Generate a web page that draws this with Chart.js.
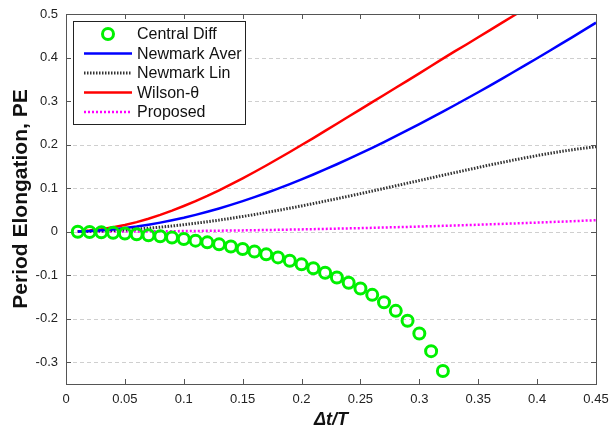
<!DOCTYPE html>
<html>
<head>
<meta charset="utf-8">
<script src="https://cdn.jsdelivr.net/npm/chart.js@4.4.0/dist/chart.umd.min.js"></script>
<style>
  html, body { margin: 0; padding: 0; background: #fff; }
  #wrap { width: 610px; height: 431px; }
</style>
</head>
<body>
<div id="wrap"><canvas id="peChart" width="610" height="431"></canvas></div>
<script>
// time step ratio dt/T
const dtT = [
  0.01, 0.02, 0.03, 0.04, 0.05, 0.06, 0.07, 0.08, 0.09, 0.10,
  0.11, 0.12, 0.13, 0.14, 0.15, 0.16, 0.17, 0.18, 0.19, 0.20,
  0.21, 0.22, 0.23, 0.24, 0.25, 0.26, 0.27, 0.28, 0.29, 0.30,
  0.31, 0.32, 0.33, 0.34, 0.35, 0.36, 0.37, 0.38, 0.39, 0.40,
  0.41, 0.42, 0.43, 0.44, 0.45
];

// period elongation
const centralDiff = [
  -0.0002, -0.0007, -0.0015, -0.0026, -0.0041, -0.0060, -0.0082, -0.0107, -0.0136, -0.0168,
  -0.0207, -0.0246, -0.0292, -0.0340, -0.0398, -0.0457, -0.0521, -0.0592, -0.0668, -0.0751,
  -0.0841, -0.0944, -0.1053, -0.1175, -0.1305, -0.1452, -0.1622, -0.1819, -0.2047, -0.2340,
  -0.2745, -0.3200
];
const newmarkAver = [
  0.0003, 0.0013, 0.0030, 0.0052, 0.0082, 0.0117, 0.0159, 0.0207, 0.0261, 0.0320,
  0.0386, 0.0457, 0.0533, 0.0615, 0.0701, 0.0792, 0.0888, 0.0988, 0.1092, 0.1200,
  0.1313, 0.1429, 0.1548, 0.1673, 0.1797, 0.1926, 0.2058, 0.2193, 0.2330, 0.2470,
  0.2612, 0.2757, 0.2904, 0.3053, 0.3203, 0.3356, 0.3511, 0.3667, 0.3825, 0.3984,
  0.4145, 0.4307, 0.4470, 0.4635, 0.4801
];
const newmarkLin = [
  0.0002, 0.0007, 0.0015, 0.0026, 0.0041, 0.0059, 0.0080, 0.0103, 0.0130, 0.0160,
  0.0193, 0.0228, 0.0265, 0.0306, 0.0348, 0.0393, 0.0440, 0.0489, 0.0539, 0.0591,
  0.0645, 0.0701, 0.0757, 0.0815, 0.0873, 0.0932, 0.0992, 0.1053, 0.1114, 0.1174,
  0.1235, 0.1296, 0.1356, 0.1415, 0.1474, 0.1534, 0.1588, 0.1644, 0.1697, 0.1747,
  0.1795, 0.1840, 0.1882, 0.1919, 0.1952
];
const wilsonTheta = [
  0.0006, 0.0025, 0.0056, 0.0099, 0.0153, 0.0219, 0.0296, 0.0384, 0.0483, 0.0590,
  0.0700, 0.0820, 0.0950, 0.1085, 0.1225, 0.1370, 0.1520, 0.1675, 0.1830, 0.1990,
  0.2150, 0.2315, 0.2480, 0.2645, 0.2810, 0.2975, 0.3140, 0.3305, 0.3470, 0.3635,
  0.3805, 0.3975, 0.4140, 0.4300, 0.4465, 0.4630, 0.4795, 0.4960, 0.5125, 0.5290,
  0.5455, 0.5620, 0.5785, 0.5950, 0.6115
];
const proposed = [
  0.0000, 0.0001, 0.0001, 0.0002, 0.0003, 0.0005, 0.0006, 0.0008, 0.0011, 0.0013,
  0.0016, 0.0019, 0.0022, 0.0026, 0.0029, 0.0033, 0.0038, 0.0042, 0.0047, 0.0052,
  0.0057, 0.0063, 0.0069, 0.0075, 0.0081, 0.0088, 0.0095, 0.0102, 0.0109, 0.0117,
  0.0125, 0.0133, 0.0142, 0.0150, 0.0159, 0.0169, 0.0178, 0.0188, 0.0198, 0.0208,
  0.0219, 0.0229, 0.0240, 0.0252, 0.0263
];

const xTicks = [0, 0.05, 0.1, 0.15, 0.2, 0.25, 0.3, 0.35, 0.4, 0.45];
const yTicks = [-0.3, -0.2, -0.1, 0, 0.1, 0.2, 0.3, 0.4, 0.5];

const FONT = "'Liberation Sans', Arial, sans-serif";

function pts(values) {
  return values.map((v, i) => ({ x: dtT[i], y: v }));
}

function fmt(v) {
  return String(+v.toFixed(2));
}

// box, inward ticks, dashed grid and the boxed legend (MATLAB look)
const frame = {
  id: "frame",
  beforeDatasetsDraw(chart) {
    const { ctx, chartArea: a, scales } = chart;
    ctx.save();
    ctx.strokeStyle = "#cfcfcf";
    ctx.lineWidth = 1;
    ctx.setLineDash([4, 3]);
    yTicks.forEach((v) => {
      const py = Math.round(scales.y.getPixelForValue(v)) + 0.5;
      ctx.beginPath();
      ctx.moveTo(a.left, py);
      ctx.lineTo(a.right, py);
      ctx.stroke();
    });
    ctx.restore();
  },
  afterDatasetsDraw(chart) {
    const { ctx, chartArea: a, scales } = chart;
    ctx.save();
    ctx.strokeStyle = "#555";
    ctx.lineWidth = 1;
    ctx.strokeRect(Math.round(a.left) + 0.5, Math.round(a.top) + 0.5,
      Math.round(a.right - a.left), Math.round(a.bottom - a.top));
    const tl = 5;
    ctx.beginPath();
    xTicks.forEach((v) => {
      const px = Math.round(scales.x.getPixelForValue(v)) + 0.5;
      ctx.moveTo(px, a.bottom); ctx.lineTo(px, a.bottom - tl);
      ctx.moveTo(px, a.top); ctx.lineTo(px, a.top + tl);
    });
    yTicks.forEach((v) => {
      const py = Math.round(scales.y.getPixelForValue(v)) + 0.5;
      ctx.moveTo(a.left, py); ctx.lineTo(a.left + tl, py);
      ctx.moveTo(a.right, py); ctx.lineTo(a.right - tl, py);
    });
    ctx.stroke();

    // legend
    const lx = a.left + 7, ly = a.top + 7, lw = 172, lh = 103;
    ctx.fillStyle = "#fff";
    ctx.fillRect(lx, ly, lw, lh);
    ctx.strokeStyle = "#222";
    ctx.strokeRect(lx + 0.5, ly + 0.5, lw, lh);
    ctx.font = "16px " + FONT;
    ctx.textBaseline = "middle";
    chart.data.datasets.forEach((ds, i) => {
      const cy = ly + 13 + i * 19.5;
      ctx.save();
      if (ds.showLine === false) {
        ctx.strokeStyle = ds.pointBorderColor;
        ctx.lineWidth = ds.pointBorderWidth;
        ctx.beginPath();
        ctx.arc(lx + 35, cy, ds.pointRadius, 0, Math.PI * 2);
        ctx.stroke();
      } else {
        ctx.strokeStyle = ds.borderColor;
        ctx.lineWidth = ds.borderWidth;
        ctx.setLineDash(ds.borderDash || []);
        ctx.beginPath();
        ctx.moveTo(lx + 11, cy);
        ctx.lineTo(lx + 59, cy);
        ctx.stroke();
      }
      ctx.restore();
      ctx.fillStyle = "#111";
      ctx.fillText(ds.label, lx + 64, cy + 1);
    });
    ctx.restore();
  }
};

new Chart(document.getElementById("peChart"), {
  type: "line",
  data: {
    datasets: [
      {
        label: "Central Diff",
        data: pts(centralDiff),
        showLine: false,
        pointRadius: 5.5,
        pointBorderWidth: 3,
        pointBorderColor: "#00f000",
        pointBackgroundColor: "rgba(0,0,0,0)",
        borderColor: "#00f000"
      },
      {
        label: "Newmark Aver",
        data: pts(newmarkAver),
        borderColor: "#0000ff",
        borderWidth: 2.5,
        pointRadius: 0
      },
      {
        label: "Newmark Lin",
        data: pts(newmarkLin),
        borderColor: "#333333",
        borderWidth: 3,
        borderDash: [1.5, 1.5],
        pointRadius: 0
      },
      {
        label: "Wilson-\u03b8",
        data: pts(wilsonTheta),
        borderColor: "#ff0000",
        borderWidth: 2.5,
        pointRadius: 0
      },
      {
        label: "Proposed",
        data: pts(proposed),
        borderColor: "#ff00ff",
        borderWidth: 2.5,
        borderDash: [2, 2],
        pointRadius: 0
      }
    ]
  },
  options: {
    responsive: false,
    animation: false,
    devicePixelRatio: 1,
    layout: { padding: { left: 0, right: 14, top: 14, bottom: 0 } },
    plugins: { legend: { display: false }, tooltip: { enabled: false } },
    elements: { line: { tension: 0 } },
    scales: {
      x: {
        type: "linear",
        min: 0,
        max: 0.45,
        afterBuildTicks: (s) => { s.ticks = xTicks.map((v) => ({ value: v })); },
        afterFit: (s) => { s.height = 47; s.paddingLeft = 0; s.paddingRight = 0; },
        grid: { display: false },
        border: { display: false },
        ticks: {
          callback: (v) => fmt(v),
          color: "#222",
          font: { family: FONT, size: 13 },
          padding: 0,
          maxRotation: 0
        },
        title: {
          display: true,
          text: "\u0394t/T",
          color: "#111",
          font: { family: FONT, size: 18, weight: "bold", style: "italic" },
          padding: { top: 0, bottom: 0 }
        }
      },
      y: {
        type: "linear",
        min: -0.35,
        max: 0.5,
        afterBuildTicks: (s) => { s.ticks = yTicks.map((v) => ({ value: v })); },
        afterFit: (s) => { s.width = 66; s.paddingTop = 0; s.paddingBottom = 0; },
        grid: { display: false },
        border: { display: false },
        ticks: {
          callback: (v) => fmt(v),
          color: "#222",
          font: { family: FONT, size: 13 },
          padding: 0
        },
        title: {
          display: true,
          text: "Period Elongation, PE",
          color: "#111",
          font: { family: FONT, size: 21, weight: "bold" },
          padding: { top: 9, bottom: 0 }
        }
      }
    }
  },
  plugins: [frame]
});
</script>
</body>
</html>
